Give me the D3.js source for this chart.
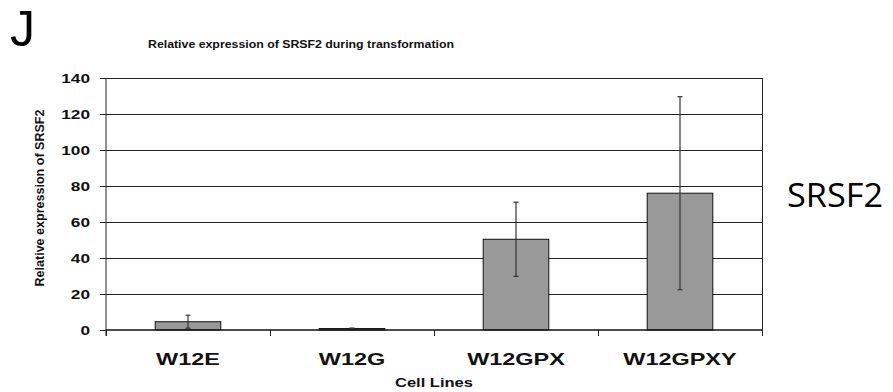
<!DOCTYPE html>
<html><head><meta charset="utf-8">
<script src="https://cdn.jsdelivr.net/npm/d3@7"></script>
<style>body{margin:0;background:#fff}svg{display:block}</style>
</head><body>
<svg id="c" width="893" height="392"></svg>
<script>
const categories = ["W12E","W12G","W12GPX","W12GPXY"];
const values = [4.6, 0.8, 50.4, 76.0];
const errors = [3.6, 0.3, 20.6, 53.6];
const yTicks = [0,20,40,60,80,100,120,140];

const svg = d3.select("#c");
const L=106, R=762, T=78, B=330;
const x = d3.scaleBand().domain(categories).range([L,R]).padding(0);
const y = d3.scaleLinear().domain([0,140]).range([B,T]);
const barW = x.bandwidth()*0.4;
const font = "'Liberation Sans', Arial, sans-serif";

function stretch(sel, factor){
  sel.each(function(){ const w=this.getComputedTextLength(); d3.select(this).attr("textLength", w*factor).attr("lengthAdjust","spacingAndGlyphs"); });
}

// gridlines
svg.append("g").selectAll("line").data(yTicks.filter(d=>d>0)).join("line")
  .attr("x1",L).attr("x2",R).attr("y1",d=>y(d)).attr("y2",d=>y(d))
  .attr("stroke","#222").attr("stroke-width",1).attr("shape-rendering","crispEdges");
// right border
svg.append("line").attr("x1",R).attr("x2",R).attr("y1",T).attr("y2",B+6)
  .attr("stroke","#222").attr("shape-rendering","crispEdges");

// bars
svg.append("g").selectAll("rect").data(categories).join("rect")
  .attr("x",(d)=>x(d)+(x.bandwidth()-barW)/2)
  .attr("y",(d,i)=>y(values[i]))
  .attr("width",barW)
  .attr("height",(d,i)=>B-y(values[i]))
  .attr("fill","#999999").attr("stroke","#111").attr("stroke-width",1);

// error bars
const eg = svg.append("g").attr("stroke","#333").attr("stroke-width",1.2);
categories.forEach((c,i)=>{
  const cx = x(c)+x.bandwidth()/2;
  const hi = y(values[i]+errors[i]), lo = y(values[i]-errors[i]);
  eg.append("line").attr("x1",cx).attr("x2",cx).attr("y1",hi).attr("y2",lo);
  eg.append("line").attr("x1",cx-2.5).attr("x2",cx+2.5).attr("y1",hi).attr("y2",hi);
  eg.append("line").attr("x1",cx-2.5).attr("x2",cx+2.5).attr("y1",lo).attr("y2",lo);
});

// y axis
const ya = svg.append("g").attr("transform",`translate(${L},0)`)
  .call(d3.axisLeft(y).tickValues(yTicks).tickSize(6).tickPadding(10));
ya.select(".domain").attr("d",`M0,${T}V${B+6}`).attr("stroke","#222");
ya.selectAll(".tick line").attr("stroke","#222");
ya.selectAll(".tick text").attr("font-family",font).attr("font-weight","bold")
  .attr("font-size","12.5px").attr("fill","#111").attr("dy","0.36em").call(stretch,1.38);

// x axis baseline
svg.append("line").attr("x1",L).attr("x2",R).attr("y1",B).attr("y2",B).attr("stroke","#111").attr("stroke-width",1.3);
// x tick marks at band boundaries
svg.append("g").selectAll("line").data(categories.concat(["__end"])).join("line")
  .attr("x1",(d,i)=>i<categories.length?x(d):R).attr("x2",(d,i)=>i<categories.length?x(d):R)
  .attr("y1",B).attr("y2",B+6).attr("stroke","#222").attr("shape-rendering","crispEdges");
// x labels
svg.append("g").selectAll("text").data(categories).join("text")
  .attr("x",d=>x(d)+x.bandwidth()/2).attr("y",365)
  .attr("text-anchor","middle").attr("font-family",font).attr("font-weight","bold")
  .attr("font-size","16.5px").attr("fill","#111").text(d=>d).call(stretch,1.42);

// axis titles
svg.append("text").attr("x",(L+R)/2).attr("y",387).attr("text-anchor","middle")
  .attr("font-family",font).attr("font-weight","bold").attr("font-size","12.5px").attr("fill","#111")
  .text("Cell Lines").call(stretch,1.32);
svg.append("text").attr("transform","translate(44,198) rotate(-90)").attr("text-anchor","middle")
  .attr("font-family",font).attr("font-weight","bold").attr("font-size","12.5px").attr("fill","#111")
  .attr("textLength",177).attr("lengthAdjust","spacingAndGlyphs")
  .text("Relative expression of SRSF2");

// title
svg.append("text").attr("x",301).attr("y",48).attr("text-anchor","middle")
  .attr("font-family",font).attr("font-weight","bold").attr("font-size","11.5px").attr("fill","#111")
  .attr("textLength",306).attr("lengthAdjust","spacingAndGlyphs")
  .text("Relative expression of SRSF2 during transformation");

// panel letter
svg.append("text").attr("x",10).attr("y",46).attr("font-family",font)
  .attr("font-size","50px").attr("fill","#000").text("J");
// gene label
svg.append("text").attr("x",787).attr("y",207).attr("font-family","'Open Sans', Lato, sans-serif")
  .attr("font-size","32px").attr("fill","#000").attr("textLength",96).attr("lengthAdjust","spacingAndGlyphs")
  .text("SRSF2");
</script>
</body></html>
